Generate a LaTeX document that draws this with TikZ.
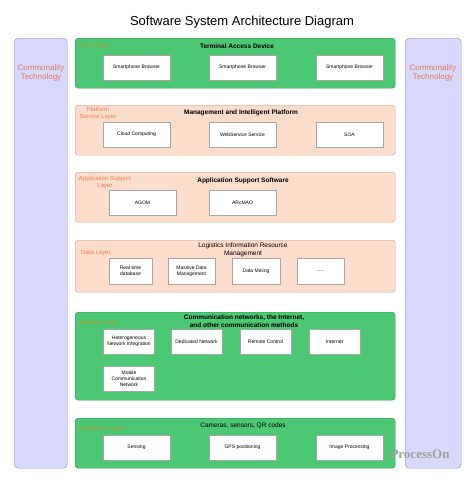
\documentclass[tikz,border=0pt]{standalone}
\usepackage{fontspec}
\setmainfont{Liberation Sans}
\newfontfamily\markfont{Liberation Serif}
\usetikzlibrary{positioning}

\definecolor{layergreen}{RGB}{76,199,116}
\definecolor{layerpeach}{RGB}{252,220,202}
\definecolor{sidelilac}{RGB}{216,216,250}
\definecolor{sideline}{RGB}{140,140,170}
\definecolor{sidetext}{RGB}{222,120,100}
\definecolor{tagtext}{RGB}{232,128,88}

\begin{document}
\begin{tikzpicture}[x=1pt,y=-1pt,
  layer/.style={draw=#1!75!black,fill=#1,rounded corners=3pt,anchor=north west,minimum width=320pt},
  side/.style={draw=sideline,fill=sidelilac,rounded corners=4pt,anchor=north west,minimum height=430pt},
  item/.style={draw=gray!70,fill=white,minimum height=25pt,minimum width=67pt,align=center,font=\fontsize{5}{6}\selectfont},
  head/.style={font=\fontsize{6.5}{7.5}\selectfont\bfseries,align=center},
  plainhead/.style={font=\fontsize{6.5}{7.5}\selectfont,align=center},
  tag/.style={text=tagtext,font=\fontsize{6}{7}\selectfont,align=center,inner sep=1pt}]
  \useasboundingbox (0,0) rectangle (474,482);

  \node [font=\fontsize{13}{15}\selectfont] (title) at (242,22) {Software System Architecture Diagram};

  % side panels
  \node [side,minimum width=53pt] (lside) at (14,38) {};
  \node [side,minimum width=56pt] (rside) at (405,38) {};
  \node [text=sidetext,font=\fontsize{8}{9.5}\selectfont,align=center] (ltext) at (41,73) {Commonality\\Technology};
  \node [text=sidetext,font=\fontsize{8}{9.5}\selectfont,align=center] (rtext) at (433,73) {Commonality\\Technology};

  % user layer
  \node [layer=layergreen,minimum height=50pt] (user) at (75,38) {};
  \node [tag,anchor=west,text=orange!60!layergreen] (usertag) at (78,46) {User Layer};
  \node [head] (userhead) at (237,46) {Terminal Access Device};
  \node [item] (u1) at (136.5,67.5) {Smartphone Browser};
  \node [item] (u2) at (242.5,67.5) {Smartphone Browser};
  \node [item] (u3) at (349.5,67.5) {Smartphone Browser};

  % platform service layer
  \node [layer=layerpeach,minimum height=50pt] (plat) at (75,105) {};
  \node [tag] (plattag) at (98,113) {Platform\\Service Layer};
  \node [head] (plathead) at (241,113) {Management and Intelligent Platform};
  \node [item] (p1) at (136.5,134.5) {Cloud Computing};
  \node [item] (p2) at (242.5,134.5) {WebService Service};
  \node [item] (p3) at (349.5,134.5) {SOA};

  % application support layer
  \node [layer=layerpeach,minimum height=50pt] (app) at (75,172) {};
  \node [tag] (apptag) at (105,182) {Application Support\\Layer};
  \node [head] (apphead) at (243,181) {Application Support Software};
  \node [item] (a1) at (142.5,202.5) {AGOM};
  \node [item] (a2) at (242.5,202.5) {ARcMAO};

  % data layer
  \node [layer=layerpeach,minimum height=52pt] (data) at (75,240) {};
  \node [tag,anchor=west] (datatag) at (80,253) {Data Layer};
  \node [plainhead] (datahead) at (243,250) {Logistics Information Resource\\Management};
  \node [item,minimum width=43pt,minimum height=26pt] (d1) at (130.5,271) {Real-time\\database};
  \node [item,minimum width=47pt,minimum height=26pt] (d2) at (191.5,271) {Massive Data\\Management};
  \node [item,minimum width=48pt,minimum height=26pt] (d3) at (256,271) {Data Mining};
  \node [item,minimum width=47pt,minimum height=26pt] (d4) at (320.5,271) {......};

  % network layer
  \node [layer=layergreen,minimum height=88pt] (net) at (75,312) {};
  \node [tag,anchor=west,text=orange!60!layergreen] (nettag) at (78,323) {Network Layer};
  \node [head] (nethead) at (244,321) {Communication networks, the Internet,\\and other communication methods};
  \node [item,minimum width=51pt] (n1) at (129,341.5) {Heterogeneous\\Network Integration};
  \node [item,minimum width=51pt] (n2) at (196.5,341.5) {Dedicated Network};
  \node [item,minimum width=51pt] (n3) at (265.5,341.5) {Remote Control};
  \node [item,minimum width=51pt] (n4) at (334.5,341.5) {Internet};
  \node [item,minimum width=51pt] (n5) at (129,378.5) {Mobile\\Communication\\Network};

  % perception layer
  \node [layer=layergreen,minimum height=50pt] (perc) at (75,418) {};
  \node [tag,anchor=west,text=orange!60!layergreen] (perctag) at (78,429) {Perception Layer};
  \node [plainhead] (perchead) at (243,426) {Cameras, sensors, QR codes};
  \node [item] (s1) at (136.5,447.5) {Sensing};
  \node [item] (s2) at (242.5,447.5) {GPS positioning};
  \node [item] (s3) at (349.5,447.5) {Image Processing};

  \node [text=gray!75,font=\fontsize{13}{15}\selectfont\markfont\bfseries] (mark) at (420,454) {ProcessOn};
\end{tikzpicture}
\end{document}
